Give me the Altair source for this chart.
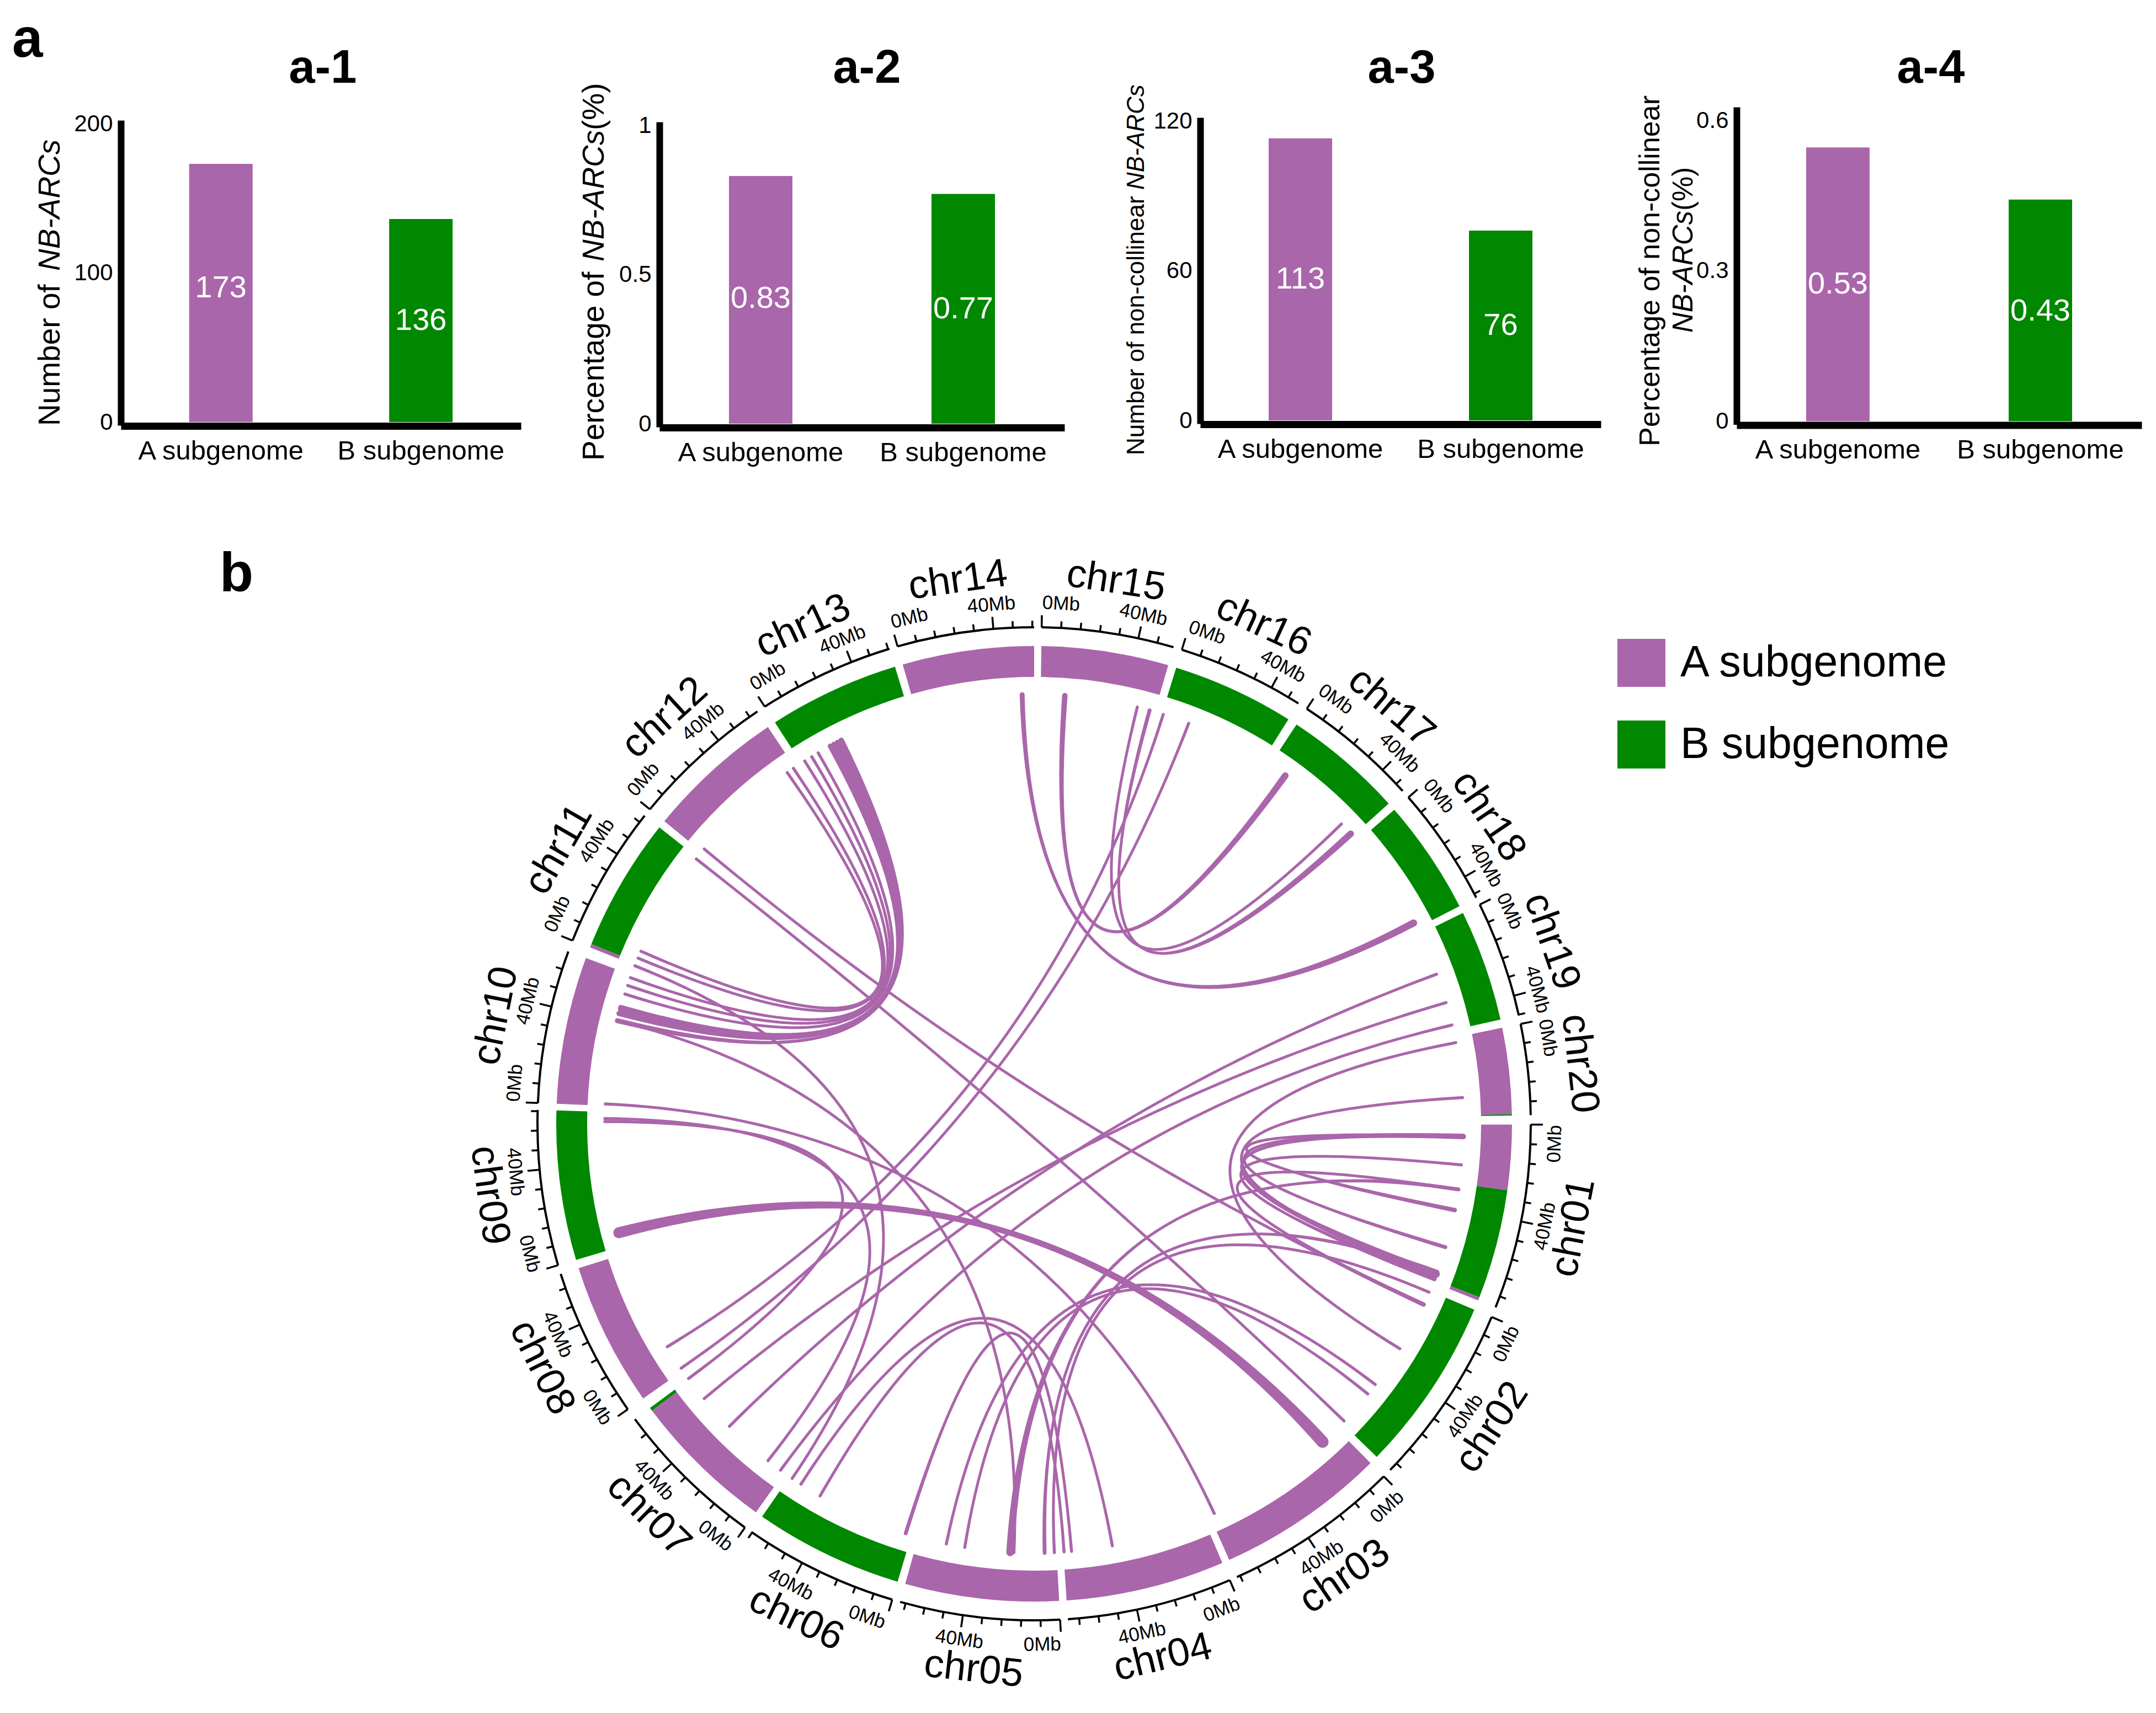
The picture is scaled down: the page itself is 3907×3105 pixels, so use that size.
import altair as alt
import numpy as np
import pandas as pd

PURPLE = "#AA66AA"
GREEN = "#008800"
FONT = "Liberation Sans"
SUB = ["A subgenome", "B subgenome"]

# ---------- panel a: values ----------
titles = ["a-1", "a-2", "a-3", "a-4"]
bar_values = [[173, 136], [0.83, 0.77], [113, 76], [0.546, 0.442]]
bar_labels = [["173", "136"], ["0.83", "0.77"], ["113", "76"], ["0.53", "0.43"]]
label_at = [[90, 68], [0.42, 0.385], [56.5, 38], [0.273, 0.22]]
y_domains = [[0, 200], [0, 1], [0, 120], [0, 0.62]]
y_ticks = [[0, 100, 200], [0, 0.5, 1], [0, 60, 120], [0, 0.3, 0.6]]

# page geometry of the four panels
cell_left = [8, 1030, 2020, 2950]
cell_width = [1022, 990, 930, 949]
axis_left = [219, 1195, 2175, 3147]
axis_right = [944, 1929, 2901, 3881]
axis_zero = [765, 768, 762, 763.5]
axis_top = [224, 227, 219, 200]
title_x = [585, 1571, 2540, 3499]
TOP_H = 842

# y titles: (text, italic, baseline x, start y, font size), page coordinates
y_titles = [
    [("Number of", False, 108, 772, 55), ("NB-ARCs", True, 108, 491, 55)],
    [("Percentage of", False, 1094, 835, 55), ("NB-ARCs", True, 1094, 474, 55), ("(%)", False, 1094, 236, 55)],
    [("Number of non-collinear", False, 2073, 825, 44), ("NB-ARCs", True, 2073, 344, 44)],
    [("Percentage of non-collinear", False, 3007, 809, 52), ("NB-ARCs", True, 3067, 603, 51), ("(%)", False, 3067, 382, 51)],
]


def panel(i):
    left = cell_left[i]
    xs = alt.Scale(domain=SUB, range=[axis_left[i] - left, axis_right[i] - left],
                   paddingInner=0.68, paddingOuter=0.34)
    ys = alt.Scale(domain=y_domains[i], range=[axis_zero[i] - 8, axis_top[i] - 8], nice=False)
    df = pd.DataFrame({"genome": SUB, "value": bar_values[i], "mid": label_at[i],
                       "label": bar_labels[i], "fill": [PURPLE, GREEN]})
    x_axis = alt.Axis(title=None, ticks=False, tickSize=0, grid=False, labelAngle=0, labelFont=FONT,
                      labelFontSize=49, labelColor="black", labelBaseline="middle", labelPadding=45,
                      labelLimit=1000, domainWidth=13, domainColor="black",
                      offset=axis_zero[i] + 7 - 8 - TOP_H, labelOverlap=False)
    y_axis = alt.Axis(title=None, ticks=False, tickSize=0, grid=False, values=y_ticks[i],
                      labelExpr="'' + datum.value",
                      labelFont=FONT, labelFontSize=42, labelColor="black", labelPadding=15,
                      domainWidth=12, domainColor="black", domainCap="square",
                      offset=-(axis_left[i] - left), labelOverlap=False)
    bars = alt.Chart(df).mark_bar(size=115).encode(
        x=alt.X("genome:N", scale=xs, axis=x_axis, sort=SUB),
        y=alt.Y("value:Q", scale=ys, axis=y_axis),
        fill=alt.Fill("fill:N", scale=None),
    )
    nums = alt.Chart(df).mark_text(color="white", font=FONT, fontSize=56, baseline="middle").encode(
        x=alt.X("genome:N", scale=xs, axis=x_axis, sort=SUB),
        y=alt.Y("mid:Q", scale=ys, axis=y_axis),
        text="label:N",
    )
    head = alt.Chart(pd.DataFrame({"t": [titles[i]]})).mark_text(
        font=FONT, fontSize=85, fontWeight="bold", baseline="middle", align="center", color="black"
    ).encode(x=alt.value(title_x[i] - left), y=alt.value(124 - 8), text="t:N")
    layers = [bars, nums, head]
    for txt, ital, bx, by, fs in y_titles[i]:
        layers.append(alt.Chart(pd.DataFrame({"t": [txt]})).mark_text(
            font=FONT, fontSize=fs, fontStyle="italic" if ital else "normal", angle=270,
            align="left", baseline="alphabetic", color="black"
        ).encode(x=alt.value(bx - left), y=alt.value(by - 8), text="t:N"))
    if i == 0:
        layers.append(alt.Chart(pd.DataFrame({"t": ["a"]})).mark_text(
            font=FONT, fontSize=100, fontWeight="bold", align="left", baseline="alphabetic", color="black"
        ).encode(x=alt.value(22 - left), y=alt.value(103 - 8), text="t:N"))
    return alt.layer(*layers).properties(width=cell_width[i], height=TOP_H)


# ---------- panel b: values (degrees clockwise from 12 o'clock) ----------
chr_names = ["chr%02d" % k for k in range(1, 21)]
chr_start = [90.1, 112.9, 135.25, 156.8, 177.0, 196.6, 215.6, 234.9, 253.45, 272.4,
             291.66, 309.3, 327.15, 344.04, 0.87, 17.3, 33.3, 48.9, 63.8, 78.4]
chr_end = [111.7, 134.2, 155.9, 176.1, 195.65, 214.7, 233.5, 252.4, 271.6, 290.3,
           308.35, 326.14, 343.07, 360.0, 16.3, 32.15, 47.9, 62.9, 77.4, 89.0]
# ring segments: start, end, subgenome
seg_start = [90.1, 98.0, 111.3, 112.9, 135.25, 156.8, 177.0, 196.6, 215.6, 233.1, 234.9, 253.45, 272.4,
             291.66, 292.1, 309.3, 327.15, 344.04, 0.87, 17.3, 33.3, 48.9, 63.8, 78.4, 88.85]
seg_end = [98.0, 111.3, 111.7, 134.2, 155.9, 176.1, 195.65, 214.7, 233.1, 233.5, 252.4, 271.6, 290.3,
           292.1, 308.35, 326.14, 343.07, 360.0, 16.3, 32.15, 47.9, 62.9, 77.4, 88.85, 89.0]
seg_sub = ["A", "B", "A", "B", "A", "A", "A", "B", "A", "B", "A", "B", "A",
           "A", "B", "A", "B", "A", "A", "B", "B", "B", "B", "A", "B"]
DEG_PER_MB = 0.28125
TICK_MB = 8
MAJOR_MB = 40

# links: angle at one end, angle at other end, width at each end
link_a = [358.4, 4.1, 13.9, 15.6, 17.5, 21.1,
          79.1, 86.5, 91.7, 91.7, 91.7, 95.5, 98.8, 98.8,
          309.8, 308.1, 178.6, 177.3, 191.8, 189.3, 212.9, 209.9, 197.4,
          255.3, 272.65, 283.9, 291.6, 270.7, 270.3, 69.6, 73.6, 76.7,
          333.3, 332.75, 332.2, 331.65, 329.8, 328.8, 327.7, 325.9, 324.9]
link_b = [62.1, 35.8, 45.7, 47.5, 238.7, 235.3,
          121.6, 110.8, 110.5, 101.6, 106.7, 111.2, 114.9, 183.2,
          114.9, 133.8, 110.2, 113.1, 127.4, 129.0, 169.5, 176.0, 175.0,
          137.8, 155.2, 182.7, 214.3, 218.3, 233.6, 225.2, 230.2, 216.2,
          283.9, 284.9, 285.7, 285.5, 287.6, 288.8, 289.9, 292.7, 293.7]
link_wa = [9, 10, 5.5, 7, 5.5, 5.5,
           5.5, 5.5, 10, 7, 7, 5.5, 5.5, 7,
           5.5, 5.5, 7, 5.5, 5.5, 5.5, 5.5, 5.5, 7,
           20, 5.5, 5.5, 5.5, 5.5, 5.5, 5.5, 5.5, 5.5,
           10, 9, 9, 9, 5.5, 5.5, 5.5, 5.5, 5.5]
link_wb = [13, 12, 5.5, 12, 5.5, 5.5,
           5.5, 8, 13, 8, 7, 8, 8, 14,
           5.5, 5.5, 8, 5.5, 5.5, 5.5, 5.5, 5.5, 5.5,
           22, 5.5, 5.5, 5.5, 5.5, 5.5, 5.5, 5.5, 5.5,
           9, 10, 10, 9, 5.5, 5.5, 5.5, 5.5, 5.5]

# page position of the ring centre
CX, CY = 1874, 2037
LOW_TOP = 8 + TOP_H
LOW_W, LOW_H = 3891, 2247
cxc, cyc = CX - 8, CY - LOW_TOP
UNIT = 1000.0
R_OUT, R_IN, R_AXIS, R_MAJOR, R_MINOR, R_LABEL, R_NAME, R_LINK = 866, 810, 900, 922, 912, 944, 995, 778

xscale = alt.Scale(domain=[-1, 1], range=[cxc - UNIT, cxc + UNIT], nice=False, zero=False)
yscale = alt.Scale(domain=[-1, 1], range=[cyc - UNIT, cyc + UNIT], nice=False, zero=False)
thscale = alt.Scale(domain=[0, 360], range=[0, 2 * np.pi])


def polar(theta, r):
    t = np.radians(theta)
    return r * np.sin(t) / UNIT, -r * np.cos(t) / UNIT


def rotation(theta):
    th = np.mod(theta, 360)
    return np.where((th > 90) & (th < 270), th - 180, th)


X = lambda f: alt.X(f, scale=xscale, axis=None)
Y = lambda f: alt.Y(f, scale=yscale, axis=None)

ring = alt.Chart(pd.DataFrame({
    "t0": seg_start, "t1": seg_end,
    "genome": ["%s subgenome" % s for s in seg_sub],
})).mark_arc(innerRadius=R_IN, outerRadius=R_OUT).encode(
    x=alt.value(cxc), y=alt.value(cyc),
    theta=alt.Theta("t0:Q", scale=thscale, stack=None),
    theta2=alt.Theta2("t1:Q"),
    color=alt.Color("genome:N", scale=alt.Scale(domain=SUB, range=[PURPLE, GREEN]),
                    legend=alt.Legend(title=None, orient="none", legendX=2931 - 8, legendY=1158 - 8,
                                      symbolType="square", symbolSize=7569, symbolStrokeWidth=0,
                                      labelFont=FONT, labelFontSize=79, labelColor="black",
                                      labelLimit=1000, labelOffset=27, rowPadding=61, padding=0)),
)

axis_arc = alt.Chart(pd.DataFrame({"t0": chr_start, "t1": chr_end})).mark_arc(
    innerRadius=R_AXIS - 2, outerRadius=R_AXIS + 2, color="black"
).encode(
    x=alt.value(cxc), y=alt.value(cyc),
    theta=alt.Theta("t0:Q", scale=thscale, stack=None),
    theta2=alt.Theta2("t1:Q"),
)

tick_rows, label_rows = [], []
for s, e, name in zip(chr_start, chr_end, chr_names):
    length = (e - s) / DEG_PER_MB
    for mb in range(0, int(length) + 1, TICK_MB):
        th = s + mb * DEG_PER_MB
        major = mb % MAJOR_MB == 0
        x0, y0 = polar(th, R_AXIS)
        x1, y1 = polar(th, R_MAJOR if major else R_MINOR)
        tick_rows.append({"x0": x0, "y0": y0, "x1": x1, "y1": y1})
        if major and mb <= 40:
            th_l = th + (2.1 if mb == 0 else 0)
            lx, ly = polar(th_l, R_LABEL)
            label_rows.append({"x": lx, "y": ly, "rot": float(rotation(th_l)), "t": "%dMb" % mb})
ticks = alt.Chart(pd.DataFrame(tick_rows)).mark_rule(color="black", strokeWidth=3.5).encode(
    x=X("x0:Q"), y=Y("y0:Q"), x2="x1:Q", y2="y1:Q")
tick_labels = alt.Chart(pd.DataFrame(label_rows)).mark_text(
    font=FONT, fontSize=35, color="black", baseline="middle", align="center"
).encode(x=X("x:Q"), y=Y("y:Q"), text="t:N", angle=alt.Angle("rot:Q", scale=None))

mid = (np.array(chr_start) + np.array(chr_end)) / 2
nx, ny = polar(mid, R_NAME)
names = alt.Chart(pd.DataFrame({"x": nx, "y": ny, "rot": rotation(mid), "t": chr_names})).mark_text(
    font=FONT, fontSize=72, color="black", baseline="middle", align="center"
).encode(x=X("x:Q"), y=Y("y:Q"), text="t:N", angle=alt.Angle("rot:Q", scale=None))

# ribbons: quadratic curves whose control point is the ring centre
link_rows = []
steps = np.linspace(0, 1, 61)
for idx, (a, b, wa, wb) in enumerate(zip(link_a, link_b, link_wa, link_wb)):
    ax, ay = polar(a, R_LINK)
    bx, by = polar(b, R_LINK)
    for k, t in enumerate(steps):
        link_rows.append({
            "id": idx, "k": k,
            "x": (1 - t) ** 2 * ax + t ** 2 * bx,
            "y": (1 - t) ** 2 * ay + t ** 2 * by,
            "w": max(5.0, (1 - t) ** 2 * wa + t ** 2 * wb),
        })
links = alt.Chart(pd.DataFrame(link_rows)).mark_trail(color=PURPLE).encode(
    x=X("x:Q"), y=Y("y:Q"), detail="id:N", order=alt.Order("k:Q"),
    size=alt.Size("w:Q", scale=None),
)

letter_b = alt.Chart(pd.DataFrame({"t": ["b"]})).mark_text(
    font=FONT, fontSize=100, fontWeight="bold", align="left", baseline="alphabetic", color="black"
).encode(x=alt.value(398 - 8), y=alt.value(1072 - LOW_TOP), text="t:N")

circos = alt.layer(links, ring, axis_arc, ticks, tick_labels, names, letter_b).properties(
    width=LOW_W, height=LOW_H)

top = alt.hconcat(*[panel(i) for i in range(4)], spacing=0)
chart = alt.vconcat(top, circos, spacing=0).properties(
    padding=0, background="white"
).configure_view(strokeWidth=0)

chart.save("out.html", embed_options={"renderer": "svg", "actions": False})
